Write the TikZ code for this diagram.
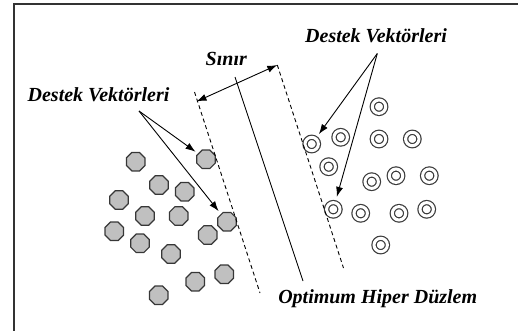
\documentclass[tikz,border=0pt]{standalone}
\usepackage{fontspec}
\setmainfont{Liberation Serif}
\usetikzlibrary{shapes.geometric,arrows.meta}
\definecolor{octfill}{RGB}{192,192,192}
\definecolor{octdraw}{RGB}{55,55,55}
\definecolor{ringdraw}{RGB}{60,60,60}
\begin{document}
\begin{tikzpicture}[x=1pt,y=-1pt,
  lbl/.style={font=\fontsize{20}{24}\selectfont\bfseries\itshape, inner sep=0pt, anchor=base},
  oct/.style={regular polygon, regular polygon sides=8, minimum size=20pt, inner sep=0pt,
              fill=octfill, draw=octdraw, line width=1.2pt},
  ring/.style={circle, minimum size=13.4pt, inner sep=0pt, draw=ringdraw, line width=1.2pt,
               double=white, double distance=3pt},
  arr/.style={line width=0.9pt, -{Latex[length=10pt,width=7pt]}},
  darr/.style={line width=0.9pt, {Latex[length=10pt,width=7pt]}-{Latex[length=10pt,width=7pt]}},
  dash line/.style={line width=0.9pt, dash pattern=on 4pt off 3pt},
  frame/.style={line width=1.6pt, draw=black!80}
]
\useasboundingbox (0,0) rectangle (518,331);
% frame (only top and left edges visible)
\coordinate (fbl) at (14,331);
\coordinate (ftl) at (14,4);
\coordinate (ftr) at (518,4);
\draw[frame] (fbl) -- (ftl) -- (ftr);

% grey octagons (one class)
\node[oct] (g1) at (135.7,161.7) {};
\node[oct] (g2) at (206,159.3) {};
\node[oct] (g3) at (159,185) {};
\node[oct] (g4) at (184.7,191.7) {};
\node[oct] (g5) at (119,200) {};
\node[oct] (g6) at (145,216) {};
\node[oct] (g7) at (178.7,216) {};
\node[oct] (g8) at (227,221.7) {};
\node[oct] (g9) at (114.3,231.3) {};
\node[oct] (g10) at (140,243.3) {};
\node[oct] (g11) at (207.7,235) {};
\node[oct] (g12) at (171,254) {};
\node[oct] (g13) at (224.3,274.3) {};
\node[oct] (g14) at (195.3,281.7) {};
\node[oct] (g15) at (158.7,295.3) {};

% rings (other class)
\node[ring] (r1) at (379,106.7) {};
\node[ring] (r2) at (311.7,144) {};
\node[ring] (r3) at (340.7,137.3) {};
\node[ring] (r4) at (379,139) {};
\node[ring] (r5) at (412.3,139) {};
\node[ring] (r6) at (328.7,166.7) {};
\node[ring] (r7) at (371.7,181.7) {};
\node[ring] (r8) at (396,175.7) {};
\node[ring] (r9) at (429.3,175.7) {};
\node[ring] (r10) at (333.3,209.3) {};
\node[ring] (r11) at (360.7,213.3) {};
\node[ring] (r12) at (399,213.3) {};
\node[ring] (r13) at (426.7,209.3) {};
\node[ring] (r14) at (380.7,245) {};

% hyperplane and margins
\coordinate (hpt) at (235,77);
\coordinate (hpb) at (303,281);
\coordinate (dlt) at (194.5,92);
\coordinate (dlb) at (260,293);
\coordinate (drt) at (277.3,65);
\coordinate (drb) at (343.5,268);
\draw[line width=0.9pt] (hpt) -- (hpb);
\draw[dash line] (dlt) -- (dlb);
\draw[dash line] (drt) -- (drb);

% margin double arrow
\coordinate (ma) at (196.5,101.5);
\draw[darr] (ma) -- (drt);

% labels
\node[lbl] (lblL) at (98.5,101.7) {Destek Vektörleri};
\node[lbl] (lblR) at (376,42.5) {Destek Vektörleri};
\node[lbl] (lblS) at (226.3,66) {Sınır};
\node[lbl] (lblO) at (377.7,303) {Optimum Hiper Düzlem};

% arrows to support vectors
\coordinate (ls) at (139,111);
\coordinate (rs) at (377.3,53.5);
\draw[arr, shorten >=12.9pt] (ls) -- (g2.center);
\draw[arr, shorten >=13.5pt] (ls) -- (g8.center);
\draw[arr, shorten >=12.2pt] (rs) -- (r2.center);
\draw[arr, shorten >=12.9pt] (rs) -- (r10.center);
\end{tikzpicture}
\end{document}
